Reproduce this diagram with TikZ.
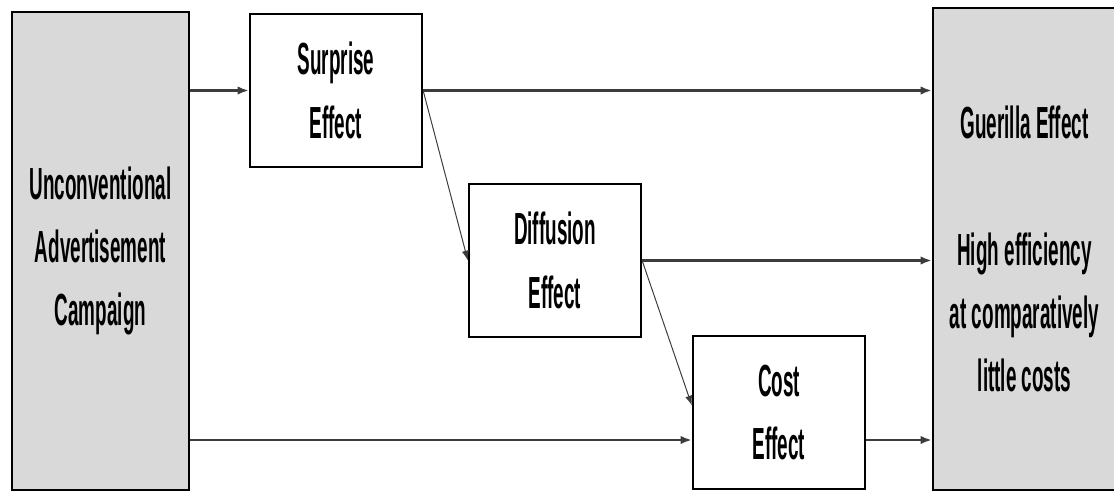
\documentclass[tikz,border=0pt]{standalone}
\usepackage{fontspec}
\usetikzlibrary{calc,positioning,arrows.meta}
\usepackage{xcolor}
\newfontfamily\narrowfont[FakeStretch=0.42]{Liberation Sans}
\definecolor{boxgray}{RGB}{217,217,217}
\definecolor{linegray}{RGB}{60,60,60}

\begin{document}
\begin{tikzpicture}[x=0.025cm, y=-0.025cm,
    box/.style={draw=black, line width=1.6pt, align=center, inner sep=0pt,
      font=\narrowfont\bfseries\fontsize{32pt}{45pt}\selectfont},
    sidebox/.style={box, fill=boxgray},
    effbox/.style={box, fill=white, minimum width=172*0.025cm, minimum height=153*0.025cm},
    flow/.style={draw=linegray, line width=1.8pt, -{Latex[length=8pt,width=6pt]}},
    slant/.style={flow, line width=0.7pt, -{Latex[length=7pt,width=5pt]}}]
  \useasboundingbox (0,0) rectangle (1114,494);

  % Caixas laterais
  \node[sidebox, minimum width=177*0.025cm, minimum height=478*0.025cm] (camp) at (100.5,251)
    {Unconventional\\Advertisement\\Campaign};
  \node[sidebox, minimum width=183*0.025cm, minimum height=482*0.025cm] (guer) at (1024.5,249)
    {Guerilla Effect\\[45pt]High efficiency\\at comparatively\\little costs};

  % Efeitos
  \node[effbox] (surp) at (336,90.5) {Surprise\\Effect};
  \node[effbox] (diff) at (555,260.5) {Diffusion\\Effect};
  \node[effbox] (cost) at (779,412.5) {Cost\\Effect};

  % Setas
  \coordinate (low) at (0,440);
  \draw[flow] (camp.east |- surp.west) -- (surp.west);
  \draw[flow] (surp.east) -- (surp.east -| guer.west);
  \draw[slant] (surp.east) -- (diff.west);
  \draw[flow] (diff.east) -- (diff.east -| guer.west);
  \draw[slant] (diff.east) -- ($(cost.west)+(0,-7)$);
  \draw[flow] (camp.east |- low) -- (cost.west |- low);
  \draw[flow] (cost.east |- low) -- (guer.west |- low);

\end{tikzpicture}
\end{document}
